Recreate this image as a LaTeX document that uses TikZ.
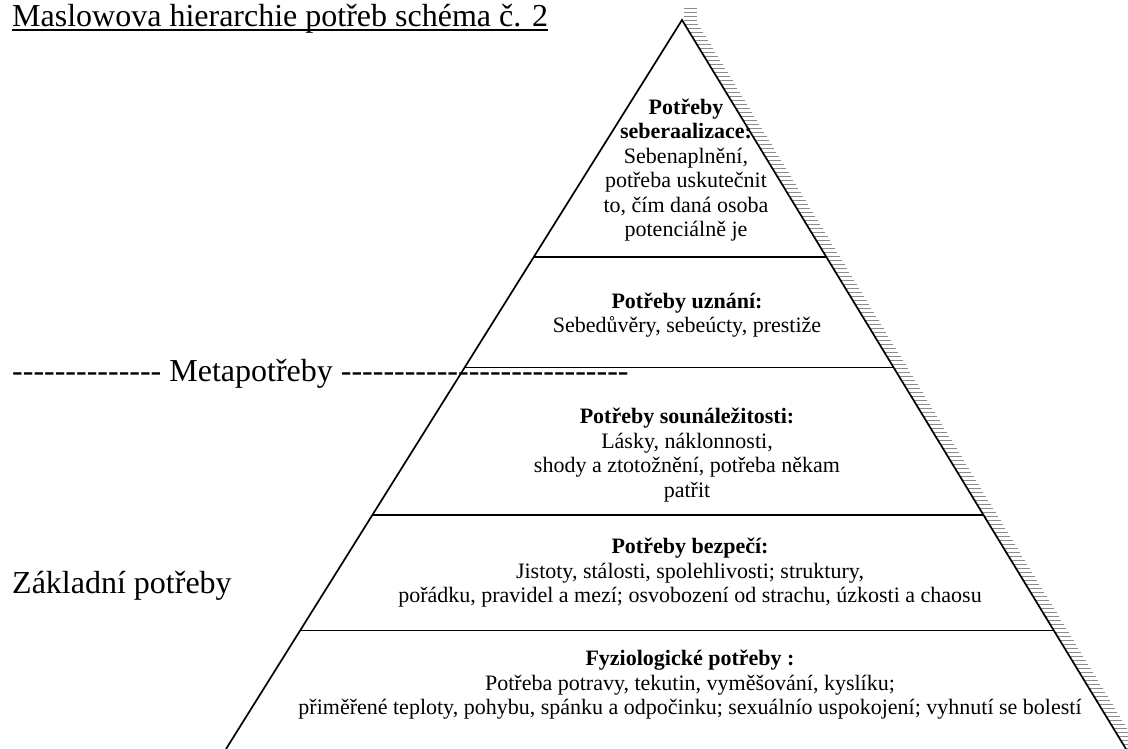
\documentclass[tikz,border=0pt]{standalone}
\usepackage{fontspec}
\setmainfont{Liberation Serif}
\usetikzlibrary{calc}
\newcommand\hyphenrun[1]{\foreach \k in {1,...,#1}{\mbox{-}}}

\begin{document}
\begin{tikzpicture}
      [x=1pt,y=-1pt,
       bandtext/.style={font=\fontsize{22}{24.5}\selectfont, align=center, inner sep=0pt},
       side/.style={font=\fontsize{32}{38}\selectfont, inner sep=0pt, anchor=base west},
       pyrside/.style={line width=1.7pt},
       divider/.style={line width=1.3pt},
       hatch/.style={black!45, line width=0.5pt}]
      \useasboundingbox (0,0) rectangle (1128,749);

      \coordinate (apex) at (682,20);
      \coordinate (baseL) at (226,749);
      \coordinate (baseR) at (1126,749);

      % hatching along the right side
      \foreach \y in {8,12,...,748}
        \draw [hatch] ({max(684,683+0.609*(\y-20))},\y) -- ++(13,0);

      \draw [pyrside] (baseL) -- (apex) -- (baseR);

      \foreach \t/\n in {0.325/1,0.477/2,0.679/3,0.837/4} {
        \coordinate (l\n) at ($(apex)!\t!(baseL)$);
        \coordinate (r\n) at ($(apex)!\t!(baseR)$);
        \draw [divider] (l\n) -- (r\n);
      }

      \node [bandtext] (self) at (686,170) {\textbf{Potřeby}\\\textbf{seberaalizace:}\\Sebenaplnění,\\potřeba uskutečnit\\to, čím daná osoba\\potenciálně je};
      \node [bandtext] (esteem) at (687,315) {\textbf{Potřeby uznání:}\\Sebedůvěry, sebeúcty, prestiže};
      \node [bandtext] (love) at (687,455) {\textbf{Potřeby sounáležitosti:}\\Lásky, náklonnosti,\\shody a ztotožnění, potřeba někam\\patřit};
      \node [bandtext] (safety) at (690,573) {\textbf{Potřeby bezpečí:}\\Jistoty, stálosti, spolehlivosti; struktury,\\pořádku, pravidel a mezí; osvobození od strachu, úzkosti a chaosu};
      \node [bandtext] (body) at (690,685) {\textbf{Fyziologické potřeby :}\\Potřeba potravy, tekutin, vyměšování, kyslíku;\\přiměřené teploty, pohybu, spánku a odpočinku; sexuálnío uspokojení; vyhnutí se bolestí};

      \node [side] (title) at (12,27) {Maslowova hierarchie potřeb schéma č. 2};
      \draw [line width=1.5pt] ([yshift=-3pt]title.base west) -- ([yshift=-3pt]title.base east);
      \node [side] (meta) at (12,381) {\hyphenrun{14} Metapotřeby \hyphenrun{27}};
      \node [side] (basic) at (12,593) {Základní potřeby};
    \end{tikzpicture}
\end{document}
